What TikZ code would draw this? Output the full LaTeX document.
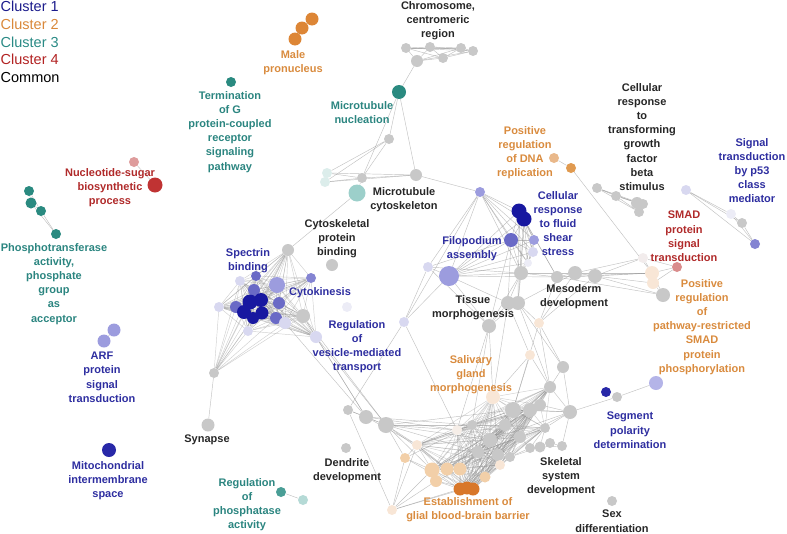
\documentclass[tikz,border=0pt]{standalone}
\usepackage{fontspec}
\setmainfont{Liberation Sans}
\usetikzlibrary{backgrounds}
\definecolor{cOne}{HTML}{1C1C8C}
\definecolor{cTwo}{HTML}{D9883A}
\definecolor{cThree}{HTML}{2A8A85}
\definecolor{cFour}{HTML}{B22222}
\definecolor{tBlue}{HTML}{2E2EA0}
\definecolor{tOrange}{HTML}{D98B3E}
\definecolor{tTeal}{HTML}{2B8580}
\definecolor{tRed}{HTML}{B02A2A}
\definecolor{tBlack}{HTML}{262626}
\definecolor{nGrey}{HTML}{C8C8C8}
\definecolor{bDark}{HTML}{1818A0}
\definecolor{bDeep}{HTML}{2828A8}
\definecolor{bMid}{HTML}{6A6AC6}
\definecolor{bMidL}{HTML}{8484D2}
\definecolor{bLight}{HTML}{9C9CDE}
\definecolor{bLite}{HTML}{B4B4E8}
\definecolor{bPale}{HTML}{D8D8F0}
\definecolor{bPaler}{HTML}{ECECF6}
\definecolor{oDark}{HTML}{D8772A}
\definecolor{oMale}{HTML}{DD8636}
\definecolor{oMid}{HTML}{E9B88A}
\definecolor{oMidD}{HTML}{E09A50}
\definecolor{oLight}{HTML}{F2CFA8}
\definecolor{oPale}{HTML}{F8E6D6}
\definecolor{oPaler}{HTML}{F6EEE8}
\definecolor{gDark}{HTML}{2A8A80}
\definecolor{gMid}{HTML}{4A9E96}
\definecolor{gLight}{HTML}{9CCFCA}
\definecolor{gLite}{HTML}{B5DAD6}
\definecolor{gPale}{HTML}{DCEDEB}
\definecolor{rDark}{HTML}{C03333}
\definecolor{rLight}{HTML}{DE9C9C}
\definecolor{rMid}{HTML}{D98C8C}
\definecolor{pPale}{HTML}{F2ECEC}
\definecolor{edgeGrey}{HTML}{8F8F8F}
\tikzset{
  nd/.style 2 args={circle, inner sep=0pt, minimum size=#2pt, fill=#1, draw=none},
  lbl/.style={font=\bfseries\fontsize{11}{14.2}\selectfont, align=center, inner sep=0pt, anchor=north},
  leg/.style={font=\fontsize{14.5}{17}\selectfont, inner sep=0pt, anchor=base west},
  edge/.style={draw=edgeGrey, line width=0.45pt, opacity=0.55},
  dense/.style={draw=edgeGrey, line width=0.45pt, opacity=0.42},
}
\newcommand{\meshall}[2]{%
  \foreach \na [count=\ci] in {#2}{%
    \foreach \nb [count=\cj] in {#2}{%
      \ifnum\cj>\ci\relax \draw[#1] (\na) -- (\nb);\fi
    }%
  }%
}
\begin{document}
\begin{tikzpicture}[x=1pt,y=-1pt]
\useasboundingbox (0,0) rectangle (787,533);
% legend
\node[leg, text=cOne] (leg1) at (0.5,11.2) {Cluster 1};
\node[leg, text=cTwo] (leg2) at (0.5,29) {Cluster 2};
\node[leg, text=cThree] (leg3) at (0.5,47) {Cluster 3};
\node[leg, text=cFour] (leg4) at (0.5,64.5) {Cluster 4};
\node[leg, text=black] (leg5) at (0.5,82.5) {Common};
% small groups
\node[nd={oMale}{13}] (m1) at (312,19) {};
\node[nd={oMale}{13}] (m2) at (302,28) {};
\node[nd={oMale}{13}] (m3) at (295,39) {};
\node[nd={gDark}{10}] (tg) at (231,82) {};
\node[nd={rLight}{10}] (ns1) at (134,162) {};
\node[nd={rDark}{15}] (ns2) at (155,185) {};
\node[nd={gDark}{10}] (pt1) at (29,191) {};
\node[nd={gDark}{11}] (pt2) at (31,203) {};
\node[nd={gDark}{10}] (pt3) at (41,211) {};
\node[nd={gDark}{10}] (pt4) at (56,234) {};
\node[nd={bLight}{13}] (arf1) at (114,330) {};
\node[nd={bLight}{13}] (arf2) at (104,341) {};
\node[nd={bDeep}{14}] (mi) at (109,450) {};
\node[nd={nGrey}{13}] (sy) at (208,425) {};
\node[nd={nGrey}{10}] (sy2) at (214,373) {};
\node[nd={gMid}{10}] (ph1) at (281,492) {};
\node[nd={gLite}{10}] (ph2) at (303,500) {};
\node[nd={nGrey}{10}] (de) at (346,448) {};
% chromosome
\node[nd={nGrey}{10}] (ch1) at (406,48) {};
\node[nd={nGrey}{10}] (ch2) at (430,47) {};
\node[nd={nGrey}{10}] (ch3) at (461,48) {};
\node[nd={nGrey}{10}] (ch4) at (473,51) {};
\node[nd={nGrey}{10}] (ch5) at (443,58) {};
\node[nd={nGrey}{12}] (ch6) at (417,61) {};
% microtubule
\node[nd={gDark}{14}] (mn) at (399,92) {};
\node[nd={nGrey}{10}] (g1) at (389,139) {};
\node[nd={gPale}{10}] (lt1) at (327,173) {};
\node[nd={gPale}{10}] (lt2) at (325,182) {};
\node[nd={nGrey}{10}] (g2) at (362,178) {};
\node[nd={nGrey}{12}] (g3) at (416,175) {};
\node[nd={gLight}{17}] (mc) at (357,193) {};
\node[nd={nGrey}{12}] (cpb) at (332,265) {};
% spectrin cluster
\node[nd={nGrey}{12}] (s0) at (288,250) {};
\node[nd={bPale}{10}] (s1) at (240,281) {};
\node[nd={bMid}{10}] (s2) at (256,276) {};
\node[nd={bLight}{16}] (s3) at (277,285) {};
\node[nd={bMidL}{10}] (s4) at (311,278) {};
\node[nd={bMid}{12}] (s15) at (254,290) {};
\node[nd={bMid}{12}] (s10) at (236,307) {};
\node[nd={bMid}{12}] (s12) at (279,303) {};
\node[nd={bMid}{12}] (s13) at (276,318) {};
\node[nd={bDark}{15}] (s5) at (250,302) {};
\node[nd={bDark}{14}] (s6) at (261,300) {};
\node[nd={bDark}{14}] (s7) at (244,312) {};
\node[nd={bDark}{13}] (s8) at (262,313) {};
\node[nd={bDark}{12}] (s9) at (253,318) {};
\node[nd={bPale}{10}] (s11) at (219,307) {};
\node[nd={nGrey}{14}] (s14) at (303,316) {};
\node[nd={bPale}{10}] (s16) at (248,331) {};
\node[nd={bPale}{12}] (s17) at (285,323) {};
\node[nd={bPale}{12}] (s18) at (316,337) {};
\node[nd={bPaler}{10}] (s19) at (347,307) {};
% cellular response cluster
\node[nd={bLight}{10}] (cr0) at (480,192) {};
\node[nd={bDark}{15}] (cr1) at (519,211) {};
\node[nd={bDark}{15}] (cr2) at (524,219) {};
\node[nd={bMid}{14}] (cr3) at (511,240) {};
\node[nd={bLight}{10}] (cr4) at (534,240) {};
\node[nd={bPale}{10}] (cr5) at (533,252) {};
\node[nd={bPaler}{8}] (cr6) at (528,263) {};
\node[nd={bPale}{10}] (cr7) at (428,267) {};
\node[nd={bLight}{20}] (cr8) at (449,276) {};
\node[nd={nGrey}{14}] (cr9) at (521,273) {};
\node[nd={nGrey}{12}] (cr10) at (557,277) {};
\node[nd={nGrey}{14}] (me1) at (575,273) {};
\node[nd={nGrey}{14}] (me2) at (595,276) {};
\node[nd={bPale}{10}] (vr) at (404,322) {};
% DNA, TGF, p53, SMAD
\node[nd={oMid}{10}] (dn1) at (554,158) {};
\node[nd={oMidD}{10}] (dn2) at (571,168) {};
\node[nd={nGrey}{10}] (tf1) at (597,188) {};
\node[nd={nGrey}{10}] (tf2) at (616,196) {};
\node[nd={nGrey}{12}] (tf3) at (637,203) {};
\node[nd={nGrey}{10}] (tf4) at (643,204) {};
\node[nd={nGrey}{10}] (tf5) at (639,212) {};
\node[nd={bPale}{10}] (p1) at (686,190) {};
\node[nd={bPaler}{10}] (p2) at (731,214) {};
\node[nd={nGrey}{10}] (p3) at (742,223) {};
\node[nd={bMidL}{10}] (p4) at (755,244) {};
\node[nd={pPale}{10}] (sm1) at (643,258) {};
\node[nd={rMid}{10}] (sm2) at (677,267) {};
\node[nd={oPale}{14}] (sm3) at (652,273) {};
\node[nd={oPale}{12}] (sm4) at (653,283) {};
\node[nd={nGrey}{14}] (sm5) at (663,295) {};
% segment polarity, sex
\node[nd={bDeep}{10}] (sg1) at (606,392) {};
\node[nd={nGrey}{10}] (sg2) at (617,397) {};
\node[nd={bLite}{14}] (sg3) at (656,383) {};
\node[nd={nGrey}{10}] (sx) at (612,501) {};
% tissue / bottom cluster
\node[nd={nGrey}{14}] (b1) at (508,303) {};
\node[nd={nGrey}{14}] (b2) at (518,303) {};
\node[nd={nGrey}{14}] (b3) at (489,326) {};
\node[nd={oPale}{10}] (b4) at (539,323) {};
\node[nd={oPale}{10}] (b5) at (530,355) {};
\node[nd={nGrey}{12}] (b6) at (563,367) {};
\node[nd={nGrey}{12}] (b7) at (550,387) {};
\node[nd={oPale}{14}] (b8) at (493,397) {};
\node[nd={nGrey}{16}] (b9) at (513,410) {};
\node[nd={nGrey}{14}] (b10) at (530,410) {};
\node[nd={nGrey}{12}] (b11) at (540,405) {};
\node[nd={nGrey}{14}] (lg) at (570,412) {};
\node[nd={oPaler}{10}] (b12) at (457,430) {};
\node[nd={nGrey}{14}] (b13) at (490,440) {};
\node[nd={nGrey}{12}] (b14) at (520,437) {};
\node[nd={nGrey}{12}] (b15) at (478,452) {};
\node[nd={nGrey}{12}] (b16) at (505,425) {};
\node[nd={nGrey}{10}] (b17) at (472,425) {};
\node[nd={nGrey}{10}] (b18) at (545,428) {};
\node[nd={nGrey}{12}] (b19) at (498,455) {};
\node[nd={nGrey}{10}] (L1) at (348,410) {};
\node[nd={nGrey}{14}] (L2) at (366,417) {};
\node[nd={nGrey}{16}] (L3) at (386,425) {};
\node[nd={oLight}{10}] (o1) at (405,458) {};
\node[nd={oPale}{10}] (o2) at (417,445) {};
\node[nd={oLight}{15}] (o3) at (432,470) {};
\node[nd={oLight}{12}] (o4) at (436,481) {};
\node[nd={oLight}{13}] (o5) at (447,469) {};
\node[nd={oLight}{13}] (o6) at (460,469) {};
\node[nd={oLight}{11}] (o7) at (485,477) {};
\node[nd={oPale}{10}] (o8) at (500,465) {};
\node[nd={oPale}{10}] (o9) at (392,510) {};
\node[nd={oDark}{13}] (od1) at (460,489) {};
\node[nd={oDark}{13}] (od2) at (467,488) {};
\node[nd={oDark}{13}] (od3) at (473,489) {};
\node[nd={nGrey}{10}] (sk1) at (510,457) {};
\node[nd={nGrey}{10}] (sk2) at (530,448) {};
\node[nd={nGrey}{11}] (sk3) at (540,447) {};
\node[nd={nGrey}{10}] (sk4) at (550,443) {};
\node[nd={nGrey}{10}] (sk5) at (562,446) {};
% labels
\node[lbl, text=tOrange] (l1) at (293,50) {Male\\pronucleus};
\node[lbl, text=tTeal] (l2) at (230,91) {Termination\\of G\\protein-coupled\\receptor\\signaling\\pathway};
\node[lbl, text=tRed] (l3) at (110,168) {Nucleotide-sugar\\biosynthetic\\process};
\node[lbl, text=tTeal] (l4) at (54,243) {Phosphotransferase\\activity,\\phosphate\\group\\as\\acceptor};
\node[lbl, text=tBlue] (l5) at (102,352) {ARF\\protein\\signal\\transduction};
\node[lbl, text=tBlue] (l6) at (108,461) {Mitochondrial\\intermembrane\\space};
\node[lbl, text=tBlack] (l7) at (207,435) {Synapse};
\node[lbl, text=tTeal] (l8) at (247,478) {Regulation\\of\\phosphatase\\activity};
\node[lbl, text=tBlack] (l9) at (347,458) {Dendrite\\development};
\node[lbl, text=tOrange] (l10) at (468,497) {Establishment of\\glial blood-brain barrier};
\node[lbl, text=tBlack] (l11) at (561,457) {Skeletal\\system\\development};
\node[lbl, text=tBlack] (l12) at (612,510) {Sex\\differentiation};
\node[lbl, text=tBlue] (l13) at (630,412) {Segment\\polarity\\determination};
\node[lbl, text=tOrange] (l14) at (471,355) {Salivary\\gland\\morphogenesis};
\node[lbl, text=tBlack] (l15) at (473,295) {Tissue\\morphogenesis};
\node[lbl, text=tBlack] (l16) at (574,284) {Mesoderm\\development};
\node[lbl, text=tOrange] (l17) at (702,279) {Positive\\regulation\\of\\pathway-restricted\\SMAD\\protein\\phosphorylation};
\node[lbl, text=tRed] (l18) at (684,211) {SMAD\\protein\\signal\\transduction};
\node[lbl, text=tBlue] (l19) at (752,138) {Signal\\transduction\\by p53\\class\\mediator};
\node[lbl, text=tBlack] (l20) at (642,83) {Cellular\\response\\to\\transforming\\growth\\factor\\beta\\stimulus};
\node[lbl, text=tOrange] (l21) at (525,126) {Positive\\regulation\\of DNA\\replication};
\node[lbl, text=tBlue] (l22) at (558,191) {Cellular\\response\\to fluid\\shear\\stress};
\node[lbl, text=tBlue] (l23) at (472,236) {Filopodium\\assembly};
\node[lbl, text=tBlack] (l24) at (404,187) {Microtubule\\cytoskeleton};
\node[lbl, text=tTeal] (l25) at (362,101) {Microtubule\\nucleation};
\node[lbl, text=tBlack] (l26) at (438,1) {Chromosome,\\centromeric\\region};
\node[lbl, text=tBlack] (l27) at (337,219) {Cytoskeletal\\protein\\binding};
\node[lbl, text=tBlue] (l28) at (248,248) {Spectrin\\binding};
\node[lbl, text=tBlue] (l29) at (320,287) {Cytokinesis};
\node[lbl, text=tBlue] (l30) at (357,320) {Regulation\\of\\vesicle-mediated\\transport};
% edges
\begin{scope}[on background layer]
\meshall{dense}{s0,s1,s2,s3,s4,s5,s6,s7,s8,s9,s10,s11,s12,s13,s14,s15,s16,s17,s18}
\foreach \t in {s0,s1,s2,s3,s5,s7,s9,s10,s11,s13,s14,s16,s17}{\draw[dense] (sy2) -- (\t);}
\meshall{edge}{cr0,cr1,cr2,cr3,cr4,cr5,cr6,cr8,cr9}
\meshall{edge}{ch1,ch2,ch3,ch4,ch5,ch6}
\meshall{dense}{b7,b8,b9,b10,b11,b12,b13,b14,b15,b16,b17,b18,b19,o2,o3,o5,o6,o7,o8,od1,od2,od3}
\foreach \a/\b in {ns1/ns2, pt1/pt2, pt2/pt3, pt3/pt4, pt2/pt4, pt1/pt3, arf1/arf2, sy/sy2, ph1/ph2, m1/m2, m2/m3,
  ch6/mn, mn/g2, mn/g3, mn/g1, g1/g2, g1/lt1, g1/lt2, lt1/g2, lt2/g2, lt1/g3, lt2/g3, g2/g3, g2/mc, mc/s0, g3/cr0,
  tf1/tf2, tf2/tf3, tf2/tf4, tf2/tf5, tf1/tf3, tf1/tf5, tf3/tf5, tf1/tf4,
  p1/p2, p1/p3, p1/p4, p2/p3, p3/p4, p2/p4,
  dn1/dn2, dn2/sm3,
  sm1/sm2, sm3/sm2, sm4/sm2, sm1/sm3, sm3/sm4, sm4/sm5, sm3/sm5, me1/sm1, me1/sm3, me2/sm1, me2/sm3, me2/sm4, me2/sm5,
  cr10/sm3, cr10/sm5, cr10/me1, me1/me2, cr10/me2,
  lg/sg2, sg2/sg3,
  sk1/sk2, sk2/sk3, sk3/sk4, sk4/sk5, sk2/sk4, sk1/sk3, sk3/sk5,
  vr/cr7, vr/cr0, vr/L1, vr/b12, vr/cr8,
  L1/L2, L2/L3, L1/L3, s18/L2, s18/L3, s14/L3, s17/L2, s14/L2,
  b1/cr9, b1/cr3, b1/cr8, b2/cr9, b2/cr1, b2/cr2, b1/b2, b2/me1, b1/b3, b2/b3, b3/cr8, b3/cr3, b3/b8, b3/b12, b3/b17,
  b1/b5, b2/b6, b2/b4, b1/b8, b2/b7, b4/me1, b4/me2, b4/cr10, b4/b6, b4/b7, b4/b9, b5/b7, b5/b9, b5/b8, b6/b7,
  cr9/cr10, cr8/cr10, cr9/me1, cr9/b3, cr7/b3, cr7/cr8, cr7/cr0, cr7/cr3, cr7/cr9, cr1/cr10, cr2/cr10,
  lg/b7, lg/b9, lg/b10, lg/b11, lg/b13, lg/b14, lg/b6, lg/b18, lg/sk5,
  L3/b12, L3/b17, L3/b15, L3/o2, L3/o3, L3/b9, L3/b13, L3/o5, L2/b12, L2/b17, L2/o2,
  o1/o2, o1/o3, o1/od1, o1/b17, o1/L3, o9/o1, o9/o3, o9/od1, o9/od2, o9/o2, o9/o4, o9/L1,
  o4/od1, o4/o3, o4/o6, o4/od2,
  sk1/b13, sk1/b14, sk1/b19, sk2/b14, sk2/b18, sk3/b18, sk1/b10}
  {\draw[edge] (\a) -- (\b);}
\end{scope}
\end{tikzpicture}
\end{document}
